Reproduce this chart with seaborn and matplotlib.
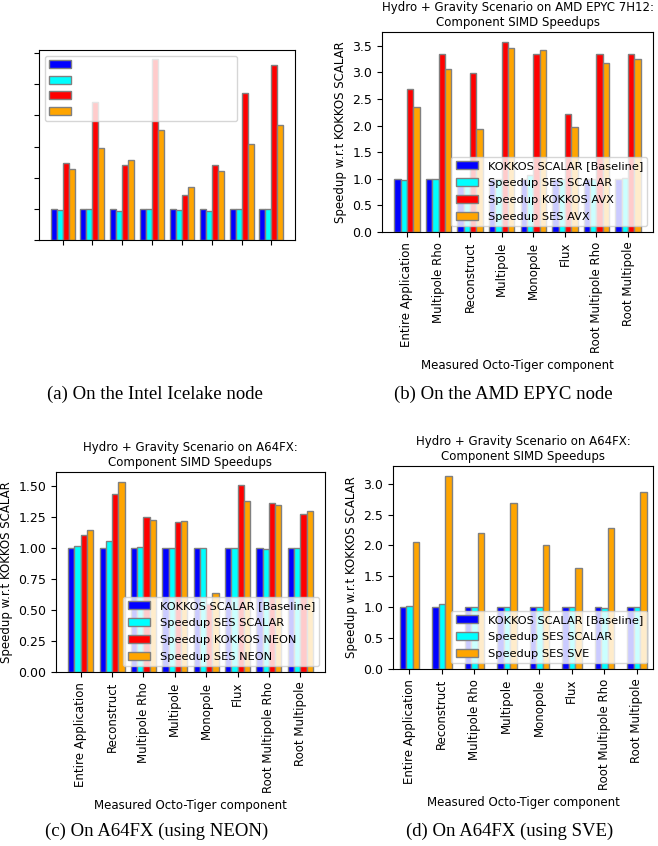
import matplotlib
matplotlib.use("Agg")
import matplotlib.pyplot as plt
from matplotlib.patches import Patch
from matplotlib.ticker import MultipleLocator
import pandas as pd
import seaborn as sns

plt.rcParams["font.family"] = ["DejaVu Sans"]

# Intel Icelake / AMD EPYC component order
x86_components = ["Entire Application", "Multipole Rho", "Reconstruct", "Multipole",
                  "Monopole", "Flux", "Root Multipole Rho", "Root Multipole"]
# A64FX component order
a64fx_components = ["Entire Application", "Reconstruct", "Multipole Rho", "Multipole",
                    "Monopole", "Flux", "Root Multipole Rho", "Root Multipole"]

# (a) Intel Icelake
icelake_kokkos_scalar = [1.0, 1.0, 1.0, 1.0, 1.0, 1.0, 1.0, 1.0]
icelake_ses_scalar = [0.97, 1.0, 0.92, 1.0, 0.97, 0.94, 1.0, 1.0]
icelake_kokkos_avx = [2.47, 4.44, 2.40, 5.81, 1.46, 2.40, 4.72, 5.62]
icelake_ses_avx = [2.28, 2.95, 2.56, 3.54, 1.69, 2.21, 3.08, 3.69]

# (b) AMD EPYC 7H12
epyc_kokkos_scalar = [1.0, 1.0, 1.0, 1.0, 1.0, 1.0, 1.0, 1.0]
epyc_ses_scalar = [0.97, 1.0, 0.97, 1.0, 1.07, 1.0, 1.0, 1.02]
epyc_kokkos_avx = [2.69, 3.35, 2.98, 3.58, 3.35, 2.22, 3.35, 3.35]
epyc_ses_avx = [2.35, 3.07, 1.94, 3.45, 3.42, 1.98, 3.17, 3.25]

# (c) A64FX NEON
neon_kokkos_scalar = [1.0, 1.0, 1.0, 1.0, 1.0, 1.0, 1.0, 1.0]
neon_ses_scalar = [1.02, 1.06, 1.01, 1.005, 1.0, 1.005, 0.995, 1.0]
neon_kokkos_neon = [1.11, 1.44, 1.25, 1.21, 0.55, 1.51, 1.37, 1.28]
neon_ses_neon = [1.15, 1.54, 1.23, 1.22, 0.64, 1.38, 1.35, 1.30]

# (d) A64FX SVE
sve_kokkos_scalar = [1.0, 1.0, 1.0, 1.0, 1.0, 1.0, 1.0, 1.0]
sve_ses_scalar = [1.02, 1.05, 1.0, 1.0, 1.0, 1.0, 0.995, 1.0]
sve_ses_sve = [2.05, 3.13, 2.20, 2.68, 2.0, 1.63, 2.28, 2.86]

EDGE = "gray"
W, H = 658, 846


def add_axes_px(fig, left, top, right, bottom):
    return fig.add_axes([left / W, 1 - bottom / H, (right - left) / W, (bottom - top) / H])


def draw_panel(ax, components, series, colors, step, width=0.8, xlim=None,
               title=None, show_text=True):
    rows = []
    for label, values in series.items():
        for comp, v in zip(components, values):
            rows.append({"component": comp, "series": label, "speedup": v})
    df = pd.DataFrame(rows)
    labels = list(series.keys())
    sns.barplot(data=df, x="component", y="speedup", hue="series",
                order=components, hue_order=labels,
                palette=dict(zip(labels, colors)), saturation=1,
                edgecolor=EDGE, linewidth=1, errorbar=None, width=width,
                legend=False, ax=ax)
    if xlim is not None:
        ax.set_xlim(*xlim)
    ax.yaxis.set_major_locator(MultipleLocator(step))
    ax.tick_params(axis="y", labelsize=9)
    ax.tick_params(axis="x", labelsize=8.5, labelrotation=90)
    handles = [Patch(facecolor=c, edgecolor=EDGE, linewidth=1, label=l)
               for l, c in zip(labels, colors)]
    if show_text:
        ax.set_xlabel("Measured Octo-Tiger component", fontsize=8.5)
        ax.set_ylabel("Speedup w.r.t KOKKOS SCALAR", fontsize=8.5)
        ax.set_title(title, fontsize=8.5, pad=4)
        ax.legend(handles=handles, loc="lower right", fontsize=8.2, labelspacing=0.6)
    else:
        ax.set_xlabel("")
        ax.set_ylabel("")
        ax.tick_params(labelbottom=False, labelleft=False)
        leg = ax.legend(handles=handles, loc="upper left", fontsize=8)
        for t in leg.get_texts():
            t.set_alpha(0)


fig = plt.figure(figsize=(W / 100, H / 100), dpi=100)

ax_a = add_axes_px(fig, 39, 50, 295, 240)
draw_panel(ax_a, x86_components,
           {"KOKKOS SCALAR [Baseline]": icelake_kokkos_scalar,
            "Speedup SES SCALAR": icelake_ses_scalar,
            "Speedup KOKKOS AVX": icelake_kokkos_avx,
            "Speedup SES AVX": icelake_ses_avx},
           ["blue", "cyan", "red", "orange"], 1, xlim=(-0.79, 7.79), show_text=False)

ax_b = add_axes_px(fig, 382, 32, 653, 232)
draw_panel(ax_b, x86_components,
           {"KOKKOS SCALAR [Baseline]": epyc_kokkos_scalar,
            "Speedup SES SCALAR": epyc_ses_scalar,
            "Speedup KOKKOS AVX": epyc_kokkos_avx,
            "Speedup SES AVX": epyc_ses_avx},
           ["blue", "cyan", "red", "orange"], 0.5, xlim=(-0.79, 7.79),
           title="Hydro + Gravity Scenario on AMD EPYC 7H12:\nComponent SIMD Speedups")

ax_c = add_axes_px(fig, 56, 472, 325, 672)
draw_panel(ax_c, a64fx_components,
           {"KOKKOS SCALAR [Baseline]": neon_kokkos_scalar,
            "Speedup SES SCALAR": neon_ses_scalar,
            "Speedup KOKKOS NEON": neon_kokkos_neon,
            "Speedup SES NEON": neon_ses_neon},
           ["blue", "cyan", "red", "orange"], 0.25, xlim=(-0.79, 7.79),
           title="Hydro + Gravity Scenario on A64FX:\nComponent SIMD Speedups")

ax_d = add_axes_px(fig, 393, 466, 653, 669)
draw_panel(ax_d, a64fx_components,
           {"KOKKOS SCALAR [Baseline]": sve_kokkos_scalar,
            "Speedup SES SCALAR": sve_ses_scalar,
            "Speedup SES SVE": sve_ses_sve},
           ["blue", "cyan", "orange"], 0.5, width=0.6,
           title="Hydro + Gravity Scenario on A64FX:\nComponent SIMD Speedups")

captions = [("(a) On the Intel Icelake node", 155, 394),
            ("(b) On the AMD EPYC node", 503, 394),
            ("(c) On A64FX (using NEON)", 157, 831),
            ("(d) On A64FX (using SVE)", 510, 831)]
for text, cx, cy in captions:
    fig.text(cx / W, 1 - cy / H, text, ha="center", va="center",
             family="Liberation Serif", fontsize=13.5)

fig.savefig("out.png", dpi=100)
